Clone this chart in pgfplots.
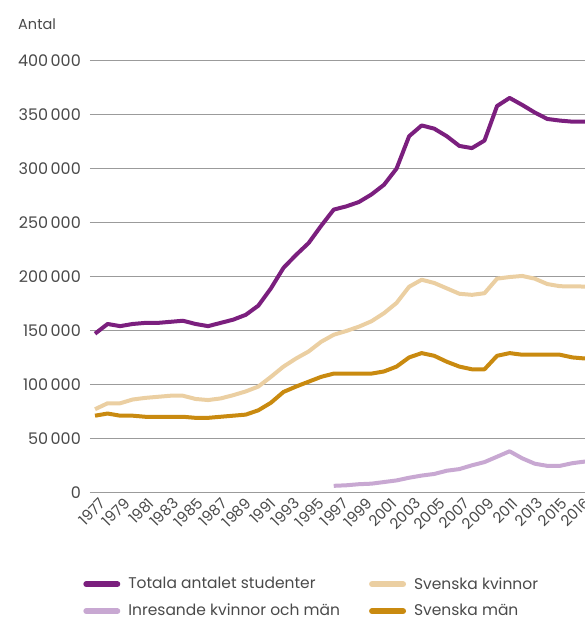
\documentclass[border=0pt]{standalone}
\usepackage{fontspec}
\setmainfont{Poppins}
\usepackage{pgfplots}
\pgfplotsset{compat=1.18}
\definecolor{cTotal}{HTML}{7B1F7E}
\definecolor{cKvinna}{HTML}{EBCFA2}
\definecolor{cMan}{HTML}{C98A10}
\definecolor{cInres}{HTML}{C8A8D2}
\definecolor{cGrid}{HTML}{9B9B9B}
\definecolor{cText}{HTML}{4A4A4A}
\newcommand{\ts}{\hspace{0.15em}}

\begin{document}
\fontsize{14.5}{17}\selectfont
\begin{tikzpicture}
  \useasboundingbox (0pt,0pt) rectangle (585pt,619pt);
  \node[anchor=west, text=cText, inner sep=0pt] at (18pt,595pt) {Antal};
  \begin{axis}[at={(90pt,126.7pt)}, anchor=south west,
      scale only axis, width=495pt, height=431.6pt,
      xmin=1976.6, xmax=2016, ymin=0, ymax=400000,
      ytick={0,50000,100000,150000,200000,250000,300000,350000,400000},
      yticklabels={0,50\ts000,100\ts000,150\ts000,200\ts000,250\ts000,300\ts000,350\ts000,400\ts000},
      % label positions follow the reference, which spaces them a bit tighter than the data
      xtick={1977.08,1979.01,1980.94,1982.88,1984.81,1986.74,1988.67,1990.60,1992.53,1994.47,
             1996.39,1998.33,2000.26,2002.19,2004.13,2006.05,2007.99,2009.92,2011.85,2013.78,2015.61},
      xticklabels={1977,1979,1981,1983,1985,1987,1989,1991,1993,1995,
                   1997,1999,2001,2003,2005,2007,2009,2011,2013,2015,2016},
      scaled y ticks=false,
      axis line style={draw=none}, major tick style={draw=none},
      ymajorgrids, grid style={cGrid, line width=1pt},
      tick label style={text=cText},
      yticklabel style={inner sep=0pt, xshift=-9pt, font=\fontsize{16}{18}\selectfont},
      xticklabel style={rotate=45, anchor=north east, inner sep=1pt, yshift=-4pt,
                        font=\fontsize{15}{18}\selectfont},
      legend columns=2, legend cell align=left,
      legend style={at={(axis description cs:-0.02,-0.187)}, anchor=north west,
        draw=none, fill=none, font=\fontsize{15.5}{18}\selectfont, text=cText,
        row sep=9pt,
        /tikz/every odd column/.append style={column sep=6pt},
        /tikz/every even column/.append style={column sep=27pt}},
      legend image code/.code={\draw[#1, line width=6pt, line cap=round] (3pt,0pt) -- (34pt,0pt);},
      every axis plot/.append style={line width=4pt, line join=round},
    ]
    \addplot[cTotal] coordinates {
      (1977,147000) (1978,156000) (1979,154000) (1980,156000) (1981,157000)
      (1982,157000) (1983,158000) (1984,159000) (1985,156000) (1986,154000)
      (1987,157000) (1988,160000) (1989,164500) (1990,173000) (1991,189000)
      (1992,208000) (1993,220000) (1994,231000) (1995,247000) (1996,262000)
      (1997,265000) (1998,269000) (1999,276000) (2000,285000) (2001,300000)
      (2002,330000) (2003,340000) (2004,337000) (2005,330000) (2006,321000)
      (2007,319000) (2008,326000) (2009,358000) (2010,365500) (2011,359000)
      (2012,352000) (2013,346000) (2014,344500) (2015,343500) (2016,343500)};
    \addlegendentry{Totala antalet studenter}
    \addplot[cKvinna] coordinates {
      (1977,77000) (1978,82500) (1979,82500) (1980,86000) (1981,87500)
      (1982,88500) (1983,89500) (1984,89500) (1985,86500) (1986,85500)
      (1987,87000) (1988,90000) (1989,93500) (1990,98000) (1991,107000)
      (1992,116500) (1993,124000) (1994,130500) (1995,139500) (1996,146000)
      (1997,149500) (1998,153500) (1999,158500) (2000,166000) (2001,175500)
      (2002,190500) (2003,197000) (2004,194000) (2005,189000) (2006,184000)
      (2007,183000) (2008,184500) (2009,198000) (2010,199500) (2011,200500)
      (2012,198000) (2013,193000) (2014,191000) (2015,190800) (2016,190700)};
    \addlegendentry{Svenska kvinnor}
    \addplot[cInres] coordinates {
      (1996,6000) (1997,6500) (1998,7500) (1999,8000) (2000,9500)
      (2001,11000) (2002,13500) (2003,15500) (2004,17000) (2005,20000)
      (2006,21500) (2007,25000) (2008,28000) (2009,33000) (2010,38000)
      (2011,31500) (2012,26500) (2013,24500) (2014,24500) (2015,27000)
      (2016,28500)};
    \addlegendentry{Inresande kvinnor och män}
    \addplot[cMan] coordinates {
      (1977,71000) (1978,73000) (1979,71000) (1980,71000) (1981,70000)
      (1982,70000) (1983,70000) (1984,70000) (1985,69000) (1986,69000)
      (1987,70000) (1988,71000) (1989,72000) (1990,76000) (1991,83000)
      (1992,93000) (1993,98000) (1994,102500) (1995,107000) (1996,110000)
      (1997,110000) (1998,110000) (1999,110000) (2000,112000) (2001,116500)
      (2002,125000) (2003,129000) (2004,126500) (2005,121000) (2006,116500)
      (2007,114000) (2008,114000) (2009,126500) (2010,129000) (2011,127500)
      (2012,127500) (2013,127500) (2014,127500) (2015,125000) (2016,124000)};
    \addlegendentry{Svenska män}
  \end{axis}
\end{tikzpicture}
\end{document}
